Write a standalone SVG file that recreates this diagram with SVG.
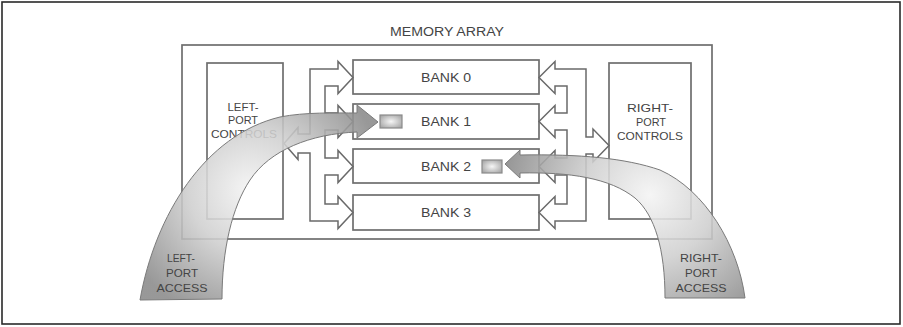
<svg xmlns="http://www.w3.org/2000/svg" width="903" height="327" viewBox="0 0 903 327">
  <style>
    .box { fill: #ffffff; stroke: #6e6e6e; stroke-width: 1.7; }
    .frame { fill: #ffffff; stroke: #2a2a2a; stroke-width: 1.6; }
    .bus { fill: #ffffff; stroke: #6a6a6a; stroke-width: 1.5; stroke-linejoin: miter; }
    .chip { fill: url(#chipGrad); stroke: #8a8a8a; stroke-width: 1.2; }
    .band { stroke: #7a7a7a; stroke-width: 1; fill-opacity: 0.88; }
    .t { font-family: "Liberation Sans", Arial, sans-serif; font-size: 12px; fill: #444444; text-anchor: middle; }
    .ts { font-family: "Liberation Sans", Arial, sans-serif; font-size: 11px; fill: #444444; text-anchor: middle; }
  </style>
  <defs>
    <radialGradient id="chipGrad" cx="0.5" cy="0.5" r="0.6">
      <stop offset="0" stop-color="#f6f6f6"/>
      <stop offset="1" stop-color="#a8a8a8"/>
    </radialGradient>
    <radialGradient id="leftGrad" gradientUnits="userSpaceOnUse" cx="250" cy="190" r="135">
      <stop offset="0" stop-color="#f4f4f4"/>
      <stop offset="0.45" stop-color="#cfcfcf"/>
      <stop offset="1" stop-color="#8a8a8a"/>
    </radialGradient>
    <radialGradient id="rightGrad" gradientUnits="userSpaceOnUse" cx="650" cy="195" r="145">
      <stop offset="0" stop-color="#f4f4f4"/>
      <stop offset="0.45" stop-color="#cfcfcf"/>
      <stop offset="1" stop-color="#8a8a8a"/>
    </radialGradient>
  </defs>

  <rect class="frame" x="2" y="2" width="898" height="322"/>

  <g id="memory-array">
    <rect class="box" x="182" y="45" width="530" height="194"/>
    <text class="t" x="447" y="36" textLength="114" lengthAdjust="spacingAndGlyphs">MEMORY ARRAY</text>
  </g>

  <g id="left-port-controls">
    <rect class="box" x="207" y="63" width="76" height="156"/>
    <text class="ts" x="243" y="111" textLength="31" lengthAdjust="spacingAndGlyphs">LEFT-</text>
    <text class="ts" x="243" y="124" textLength="30" lengthAdjust="spacingAndGlyphs">PORT</text>
    <text class="ts" x="244" y="138" textLength="66" lengthAdjust="spacingAndGlyphs">CONTROLS</text>
  </g>

  <g id="right-port-controls">
    <rect class="box" x="609" y="63" width="82" height="156"/>
    <text class="ts" x="650" y="112" textLength="46" lengthAdjust="spacingAndGlyphs">RIGHT-</text>
    <text class="ts" x="651" y="126" textLength="30" lengthAdjust="spacingAndGlyphs">PORT</text>
    <text class="ts" x="650" y="140" textLength="66" lengthAdjust="spacingAndGlyphs">CONTROLS</text>
  </g>

  <g id="bank-0">
    <rect class="box" x="353" y="60" width="186" height="34"/>
    <text class="t" x="446" y="82" textLength="50" lengthAdjust="spacingAndGlyphs">BANK 0</text>
  </g>
  <g id="bank-1">
    <rect class="box" x="353" y="104" width="186" height="35"/>
    <rect class="chip" x="380" y="115" width="22" height="13"/>
    <text class="t" x="446" y="126" textLength="50" lengthAdjust="spacingAndGlyphs">BANK 1</text>
  </g>
  <g id="bank-2">
    <rect class="box" x="353" y="149" width="186" height="34"/>
    <rect class="chip" x="482" y="160" width="20" height="13"/>
    <text class="t" x="446" y="171" textLength="50" lengthAdjust="spacingAndGlyphs">BANK 2</text>
  </g>
  <g id="bank-3">
    <rect class="box" x="353" y="195" width="186" height="35"/>
    <text class="t" x="446" y="217" textLength="50" lengthAdjust="spacingAndGlyphs">BANK 3</text>
  </g>

  <g id="connectors">
    <path id="left-bus" class="bus" d="M298,134 L310,134 L310,69 L338,69 L338,61.5 L353,77.5 L338,93.5 L338,86 L325,86 L325,113 L338,113 L338,105.5 L353,121.5 L338,137.5 L338,130 L325,130 L325,158 L338,158 L338,150.5 L353,166.5 L338,182.5 L338,175 L325,175 L325,204 L338,204 L338,196.5 L353,212.5 L338,228.5 L338,221 L310,221 L310,153 L298,153 L298,159.5 L284,143.5 L298,127.5 Z"/>
    <path id="right-bus" class="bus" d="M593,137 L586,137 L586,69 L555,69 L555,61.5 L539,77.5 L555,93.5 L555,86 L567,86 L567,113 L555,113 L555,105.5 L539,121.5 L555,137.5 L555,130 L567,130 L567,158 L555,158 L555,150.5 L539,166.5 L555,182.5 L555,175 L567,175 L567,204 L555,204 L555,196.5 L539,212.5 L555,228.5 L555,221 L586,221 L586,154 L593,154 L593,162 L609,145.5 L593,129 Z"/>
  </g>

  <g id="left-port-access">
    <path class="band" fill="url(#leftGrad)" d="M140,300 C155,215 205,135 280,117 C305,112 335,113 357,113 L357,105 L378,122 L357,138 L357,132 C310,134 270,150 250,180 C232,207 222,250 222,299 Z"/>
    <text class="ts" x="181" y="262" textLength="28" lengthAdjust="spacingAndGlyphs">LEFT-</text>
    <text class="ts" x="182" y="277" textLength="32" lengthAdjust="spacingAndGlyphs">PORT</text>
    <text class="ts" x="182" y="292" textLength="51" lengthAdjust="spacingAndGlyphs">ACCESS</text>
  </g>

  <g id="right-port-access">
    <path class="band" fill="url(#rightGrad)" d="M665,298 C665,250 655,215 635,198 C610,178 570,172 520,173 L520,178 L505,164 L520,150 L520,155 C580,154 625,158 660,170 C705,190 738,245 745,298 Z"/>
    <text class="ts" x="701" y="262" textLength="42" lengthAdjust="spacingAndGlyphs">RIGHT-</text>
    <text class="ts" x="701" y="277" textLength="32" lengthAdjust="spacingAndGlyphs">PORT</text>
    <text class="ts" x="701" y="292" textLength="51" lengthAdjust="spacingAndGlyphs">ACCESS</text>
  </g>
</svg>
